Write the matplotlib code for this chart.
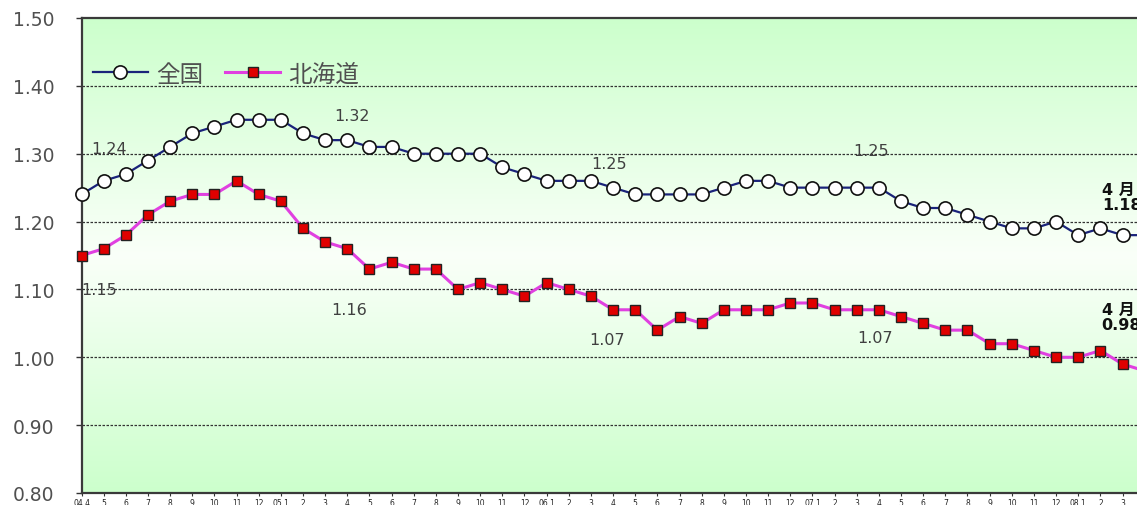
import numpy as np
import matplotlib
matplotlib.use("Agg")
import matplotlib.pyplot as plt
from matplotlib.colors import to_rgb

plt.rcParams['font.family'] = ['DejaVu Sans', 'Noto Sans CJK JP']

# monthly ratios, 2004.4 - 2008.4
months = ['04.4', '5', '6', '7', '8', '9', '10', '11', '12',
          '05.1', '2', '3', '4', '5', '6', '7', '8', '9', '10', '11', '12',
          '06.1', '2', '3', '4', '5', '6', '7', '8', '9', '10', '11', '12',
          '07.1', '2', '3', '4', '5', '6', '7', '8', '9', '10', '11', '12',
          '08.1', '2', '3', '4']
national = [1.24, 1.26, 1.27, 1.29, 1.31, 1.33, 1.34, 1.35, 1.35,
            1.35, 1.33, 1.32, 1.32, 1.31, 1.31, 1.30, 1.30, 1.30, 1.30, 1.28, 1.27,
            1.26, 1.26, 1.26, 1.25, 1.24, 1.24, 1.24, 1.24, 1.25, 1.26, 1.26, 1.25,
            1.25, 1.25, 1.25, 1.25, 1.23, 1.22, 1.22, 1.21, 1.20, 1.19, 1.19, 1.20,
            1.18, 1.19, 1.18, 1.18]
hokkaido = [1.15, 1.16, 1.18, 1.21, 1.23, 1.24, 1.24, 1.26, 1.24,
            1.23, 1.19, 1.17, 1.16, 1.13, 1.14, 1.13, 1.13, 1.10, 1.11, 1.10, 1.09,
            1.11, 1.10, 1.09, 1.07, 1.07, 1.04, 1.06, 1.05, 1.07, 1.07, 1.07, 1.08,
            1.08, 1.07, 1.07, 1.07, 1.06, 1.05, 1.04, 1.04, 1.02, 1.02, 1.01, 1.00,
            1.00, 1.01, 0.99, 0.98]
yticks = [0.80, 0.90, 1.00, 1.10, 1.20, 1.30, 1.40, 1.50]

# April values get a label: (index, dx, dy) in pixels
nat_notes = [(0, 28, 46), (12, 5, 25), (24, -4, 24), (36, -8, 37)]
hok_notes = [(0, 18, -34), (12, 2, -61), (24, -6, -30), (36, -4, -28)]

W, H = 1137, 506
fig = plt.figure(figsize=(W / 100, H / 100), dpi=100)
x = np.arange(len(months))
step = 22.15
left, top, bottom = 81.5, 19, 494
ax = fig.add_axes([left / W, (H - bottom) / H, (len(months) - 1) * step / W, (bottom - top) / H])
ax.set_xlim(0, len(months) - 1)
ax.set_ylim(0.80, 1.50)

# background: green at the edges, fading to white in the middle
green = np.array(to_rgb('#ccffcc'))
t = np.abs(np.linspace(-1, 1, 400))[:, None]
grad = (1 - t)[..., None] * np.array([0.98, 1.0, 0.975]) + t[..., None] * green
grad = np.repeat(grad, 2, axis=1)
ax.imshow(grad, extent=[0, 1, 0, 1], transform=ax.transAxes, aspect='auto', zorder=0)

for yv in yticks[1:-1]:
    ax.axhline(yv, color='#333333', lw=0.9, ls=(0, (2, 1.2)), zorder=1)

ax.plot(x, national, color='#1a237a', lw=1.6, marker='o', ms=9.5, mfc='white',
        mec='#111111', mew=1.2, label='全国', zorder=3, clip_on=False)
ax.plot(x, hokkaido, color='#e040e0', lw=2.2, marker='s', ms=7.8, mfc='#e00000',
        mec='#222222', mew=1.0, label='北海道', zorder=3, clip_on=False)

for i, dx, dy in nat_notes:
    ax.annotate(f'{national[i]:.2f}', (x[i], national[i]), xytext=(dx, dy),
                textcoords='offset pixels', ha='center', va='center',
                fontsize=11.5, color='#404040')
for i, dx, dy in hok_notes:
    ax.annotate(f'{hokkaido[i]:.2f}', (x[i], hokkaido[i]), xytext=(dx, dy),
                textcoords='offset pixels', ha='center', va='center',
                fontsize=11.5, color='#404040')

# latest month, bold
last = len(months) - 1
ax.annotate(f'4 月\n{national[last]:.2f}', (x[last], national[last]), xytext=(-43, 38),
            textcoords='offset pixels', ha='left', va='center', fontsize=11.5,
            fontweight='bold', color='#111111', linespacing=1.0, annotation_clip=False)
ax.annotate(f'4 月\n{hokkaido[last]:.2f}', (x[last], hokkaido[last]), xytext=(-43, 54),
            textcoords='offset pixels', ha='left', va='center', fontsize=11.5,
            fontweight='bold', color='#111111', linespacing=1.0, annotation_clip=False)

leg = ax.legend(loc='center left', bbox_to_anchor=(0.011, 0.882), ncol=2, frameon=False,
                borderpad=0, borderaxespad=0, handlelength=2.3, handletextpad=0.35,
                columnspacing=0.95, numpoints=1, labelcolor='#505050',
                prop={'family': 'Noto Sans CJK JP', 'size': 17})

ax.set_yticks(yticks)
ax.set_yticklabels([f'{v:.2f}' for v in yticks], fontsize=13.5, color='#505050')
ax.tick_params(axis='y', length=4.3, width=1, color='#333333', pad=15)
ax.set_xticks(x)
ax.set_xticklabels(months, fontsize=5.5, color='#222222')
ax.tick_params(axis='x', length=2.2, width=0.8, color='#333333', pad=1.5)

for side in ('left', 'top', 'bottom'):
    ax.spines[side].set_color('#3a3a3a')
    ax.spines[side].set_linewidth(1.6)
ax.spines['right'].set_visible(False)

fig.savefig('out.png', dpi=100)
